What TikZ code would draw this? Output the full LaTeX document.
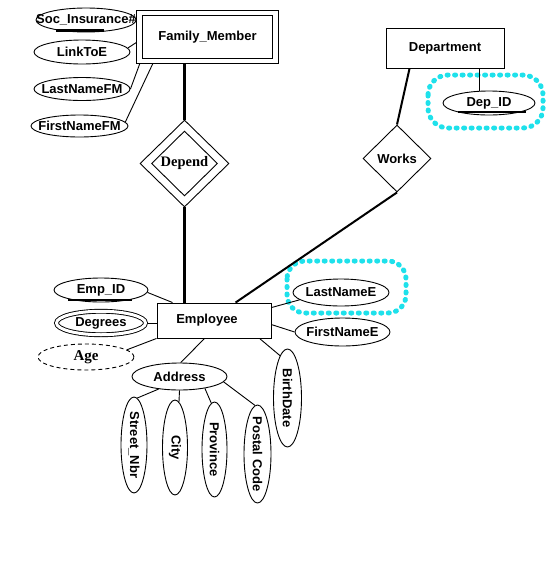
\documentclass[tikz,border=0pt]{standalone}
\usepackage{fontspec}
\setmainfont{Liberation Sans}
\newfontfamily\serifbf{Liberation Serif}
\usetikzlibrary{shapes.geometric,calc}
\definecolor{hl}{RGB}{30,225,235}
\newcommand{\zw}[1]{\makebox[0pt]{#1}}
\begin{document}
\begin{tikzpicture}[x=1pt,y=-1pt, line width=0.9pt,
  every node/.style={font=\fontsize{13}{15}\selectfont\bfseries, inner sep=0pt},
  ent/.style={rectangle, draw},
  attr/.style 2 args={ellipse, draw, minimum width=#1, minimum height=#2},
  rel/.style 2 args={diamond, draw, minimum width=#1, minimum height=#2},
  key/.style={line width=2.6pt},
  strong/.style={line width=3pt},
  medium/.style={line width=2pt},
  hilite/.style={draw=hl, line width=5pt, dash pattern=on 1pt off 6.5pt, line cap=round},
  serifbig/.style={font=\fontsize{14.5}{17}\selectfont\serifbf\bfseries},
  serifmid/.style={font=\fontsize{15}{17}\selectfont\serifbf\bfseries}
]
\useasboundingbox[fill=white] (0,0) rectangle (547,579);

% highlights
\draw[hilite, rounded corners=20pt] (428,75) rectangle (543,128);
\draw[hilite, rounded corners=18pt] (287,261) rectangle (406,313);

% entities
\node[ent, double, double distance=4.5pt, outer sep=2.75pt, minimum width=136pt, minimum height=48pt] (fm) at (207.5,37) {Family\_Member};
\node[ent, minimum width=118pt, minimum height=40pt] (dept) at (445,48) {Department};
\node[ent, minimum width=114pt, minimum height=35pt] (emp) at (214,320.5) {Employee\hspace*{14pt}};

% relationships
\node[rel={89pt}{87pt}, serifbig] (dep) at (184.5,163.5) {Depend};
\node[rel={66pt}{65pt}] (depin) at (dep.center) {};
\node[rel={68pt}{67pt}] (works) at (397,158.5) {Works};

% attributes of Family_Member
\node[attr={100pt}{24pt}] (soc) at (86,20) {\raisebox{2pt}{\zw{Soc\_Insurance\#}}};
\draw[key] ($(soc.center)+(-30,10.5)$) -- ++(48,0);
\node[attr={96pt}{24pt}] (lnk) at (82,52) {\zw{LinkToE}};
\node[attr={96pt}{23pt}] (lnfm) at (82,89) {\zw{LastNameFM}};
\node[attr={97pt}{22pt}] (fnfm) at (79.5,126) {\zw{FirstNameFM}};

% attribute of Department
\node[attr={92pt}{24pt}] (depid) at (489,103) {\zw{Dep\_ID}};
\draw[key] ($(depid.center)+(-31,9)$) -- ++(68,0);

% attributes of Employee
\node[attr={94pt}{24pt}] (empid) at (101,290) {\zw{Emp\_ID}};
\draw[key] ($(empid.center)+(-33,10)$) -- ++(64,0);
\node[attr={89pt}{23.5pt}, double, double distance=3pt, outer sep=2pt] (deg) at (101,323) {\zw{Degrees}};
\node[attr={96pt}{26pt}, dash pattern=on 4pt off 3pt, serifmid] (age) at (86,357) {\zw{Age}};
\node[attr={95pt}{27pt}] (addr) at (179.5,376.5) {\zw{Address}};
\node[attr={96pt}{27pt}] (lne) at (341,292.5) {\zw{LastNameE}};
\node[attr={95pt}{28pt}] (fne) at (342.5,332) {\zw{FirstNameE}};
\node[attr={96pt}{26pt}, rotate=-90] (street) at (134,445) {\zw{Street\_Nbr}};
\node[attr={95pt}{25pt}, rotate=-90] (city) at (175,447.5) {\zw{City}};
\node[attr={95pt}{25pt}, rotate=-90] (prov) at (214.5,449.5) {\zw{Province}};
\node[attr={98pt}{27pt}, rotate=-90] (post) at (257.5,454) {\zw{Postal Code}};
\node[attr={98pt}{28pt}, rotate=-90] (birth) at (287.5,398) {\zw{BirthDate}};

% connectors
\draw[strong] (fm.south -| dep.north) -- (dep.north);
\draw[strong] (dep.south) -- (dep.south |- emp.north);
\draw[medium] ($(dept.south west)+(24,0)$) -- (works.north);
\draw[medium] (works.south) -- ($(emp.north west)+(79,0)$);
\draw (depid.127) -- (depid.127 |- dept.south);
\draw (lnk.5) -- ($(fm.north west)+(0,32)$);
\draw (lnfm.east) -- ($(fm.south west)+(3,0)$);
\draw (fnfm.5) -- ($(fm.south west)+(16,0)$);
\draw (empid.-3) -- ($(emp.north west)+(16,0)$);
\draw (deg.east) -- (deg.east -| emp.west);
\draw (age.10) -- (emp.south west);
\draw (addr.85) -- ($(emp.south west)+(48,0)$);
\draw (birth.190) -- ($(emp.south west)+(103,0)$);
\draw (lne.190) -- ($(emp.north east)+(0,5)$);
\draw (fne.west) -- ($(emp.north east)+(0,22)$);
\draw (addr.211) -- (street.176);
\draw (addr.south) -- (city.175);
\draw (addr.335) -- (prov.184);
\draw (addr.353) -- (post.183);
\end{tikzpicture}
\end{document}
